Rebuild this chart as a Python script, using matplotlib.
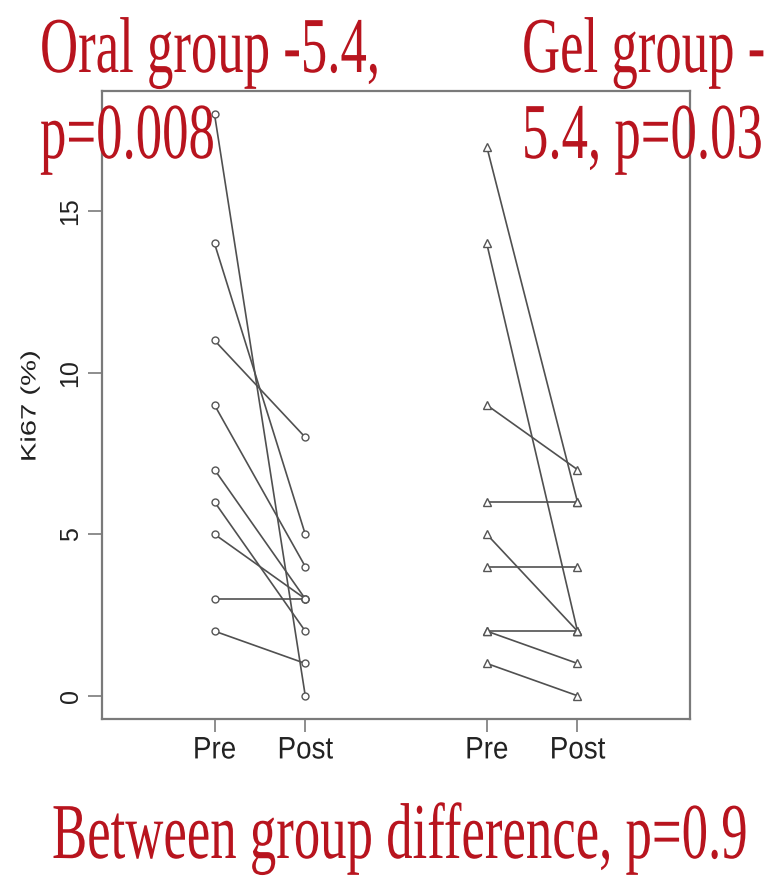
import matplotlib
matplotlib.use("Agg")
import matplotlib.pyplot as plt
from matplotlib.patheffects import AbstractPathEffect
from matplotlib.transforms import Affine2D

# ---- data ----
x_ticks = [1, 2, 4, 5]
x_labels = ["Pre", "Post", "Pre", "Post"]
oral_pre = [18, 14, 11, 9, 7, 6, 5, 3, 2]
oral_post = [0, 5, 8, 4, 3, 2, 3, 3, 1]
gel_pre = [17, 14, 9, 6, 5, 4, 2, 2, 1]
gel_post = [6, 2, 7, 6, 2, 4, 2, 1, 0]
y_ticks = [0, 5, 10, 15]
y_label = "Ki67 (%)"
title_left = ["Oral group -5.4,", "p=0.008"]
title_right = ["Gel group -", "5.4, p=0.03"]
footer = "Between group difference, p=0.9"


class Stretch(AbstractPathEffect):
    """Stretch text glyphs about the centre (x) and baseline (y)."""
    def __init__(self, sx=1.0, sy=1.0):
        super().__init__()
        self.sx, self.sy = sx, sy

    def draw_path(self, renderer, gc, tpath, affine, rgbFace=None):
        ext = tpath.get_extents()
        cx = (ext.x0 + ext.x1) / 2.0
        pre = Affine2D().translate(-cx, 0).scale(self.sx, self.sy).translate(cx, 0)
        renderer.draw_path(gc, tpath, pre + affine, rgbFace)


W, H = 767, 880
fig = plt.figure(figsize=(W / 100, H / 100), dpi=100)
ax = fig.add_axes([102 / W, 1 - 719 / H, (690 - 102) / W, (719 - 91) / H])

line_col = "#505050"
for a, b in zip(oral_pre, oral_post):
    ax.plot([x_ticks[0], x_ticks[1]], [a, b], color=line_col, lw=1.2,
            marker="o", ms=5, mfc="white", mec="#555555", mew=1.0)
for a, b in zip(gel_pre, gel_post):
    ax.plot([x_ticks[2], x_ticks[3]], [a, b], color=line_col, lw=1.2,
            marker="^", ms=6, mfc="white", mec="#555555", mew=1.0)

ax.set_xlim(-0.24, 6.24)
ax.set_ylim(-0.72, 18.72)

spine_col = "#7a7a7a"
for s in ax.spines.values():
    s.set_color(spine_col)
    s.set_linewidth(1.6)

ax.set_xticks(x_ticks)
ax.set_xticklabels(x_labels, fontfamily="Liberation Sans", fontsize=20, color="#222222")
ax.set_yticks(y_ticks)
ax.set_yticklabels([str(v) for v in y_ticks], fontfamily="Liberation Sans", fontsize=18,
                   rotation=90, va="center", color="#222222")
ax.tick_params(axis="y", length=10, width=1.2, color=spine_col, pad=4)
ax.tick_params(axis="x", length=9, width=1.2, color=spine_col, pad=5)
for lab in ax.get_xticklabels():
    lab.set_path_effects([Stretch(1.0, 1.12)])

fig.text(30 / W, 1 - 406 / H, y_label, rotation=90, ha="center", va="center",
         rotation_mode="anchor", fontfamily="Liberation Sans", fontsize=15,
         color="#222222", path_effects=[Stretch(1.4, 1.0)])

red = "#b8141e"
tkw = dict(fontfamily="Liberation Serif", fontsize=38, color=red,
           ha="left", va="baseline", path_effects=[Stretch(1.0, 1.5)])
fig.text(40 / W, 1 - 72 / H, title_left[0], **tkw)
fig.text(40 / W, 1 - 158 / H, title_left[1], **tkw)
fig.text(522 / W, 1 - 72 / H, title_right[0], **tkw)
fig.text(522 / W, 1 - 158 / H, title_right[1], **tkw)
fig.text(52 / W, 1 - 858 / H, footer, **tkw)

fig.savefig("out.png", dpi=100, facecolor="white")
